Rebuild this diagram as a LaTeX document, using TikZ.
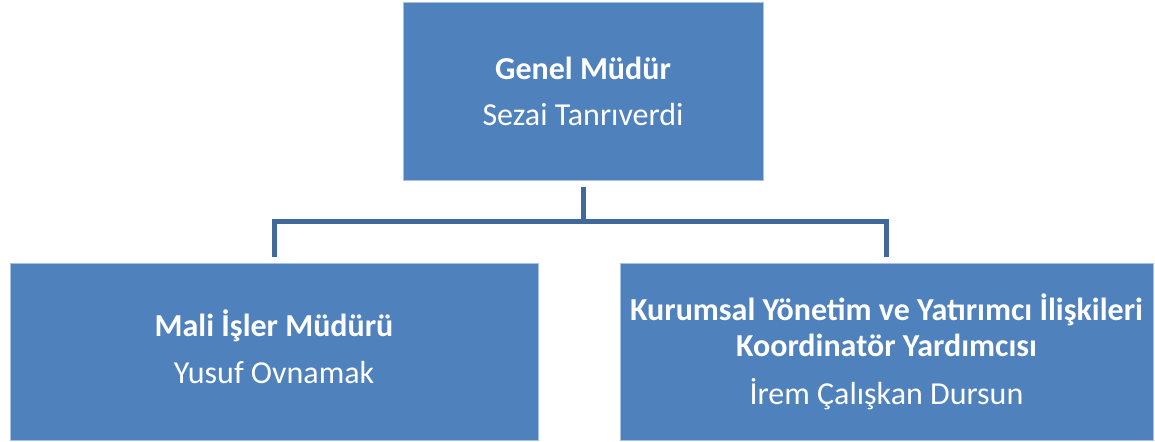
\documentclass[tikz,border=0pt]{standalone}
\usepackage{fontspec}
\setmainfont{Carlito}
\definecolor{boxfill}{HTML}{4F81BD}
\definecolor{boxedge}{HTML}{A9C1E0}
\definecolor{connline}{HTML}{41689A}
\begin{document}
\begin{tikzpicture}[x=0.75pt,y=-0.75pt,
  orgbox/.style={rectangle, fill=boxfill, draw=boxedge, line width=0.75pt, inner sep=0pt, minimum height=132.75pt},
  txt/.style={anchor=base, inner sep=0pt, text=white, font=\fontsize{24pt}{28pt}\selectfont},
  btxt/.style={txt, font=\fontsize{24pt}{28pt}\selectfont\bfseries},
  conn/.style={draw=connline, line width=3.75pt, line join=miter}]
\useasboundingbox (0,0) rectangle (1155,442);
\node[orgbox, minimum width=270pt] (top) at (583,91.5) {};
\node[orgbox, minimum width=396pt] (left) at (274,351.5) {};
\node[orgbox, minimum width=399.75pt] (right) at (886.5,351.5) {};
\coordinate (bus) at (583,221.5);
\node[btxt] (t1) at (583,79.5) {Genel Müdür};
\node[txt] (t2) at (583,126) {Sezai Tanrıverdi};
\node[btxt] (l1) at (274,336.5) {Mali İşler Müdürü};
\node[txt] (l2) at (274,383.5) {Yusuf Ovnamak};
\node[btxt] (r1) at (886.5,320.5) {Kurumsal Yönetim ve Yatırımcı İlişkileri};
\node[btxt] (r2) at (886.5,356.5) {Koordinatör Yardımcısı};
\node[txt] (r3) at (886.5,404.5) {İrem Çalışkan Dursun};
\draw[conn, shorten <=4.5pt] (top.south) -- (top.south |- bus);
\draw[conn, shorten <=4pt, shorten >=4pt] (left.north) -- (left.north |- bus) -- (right.north |- bus) -- (right.north);
\end{tikzpicture}
\end{document}
